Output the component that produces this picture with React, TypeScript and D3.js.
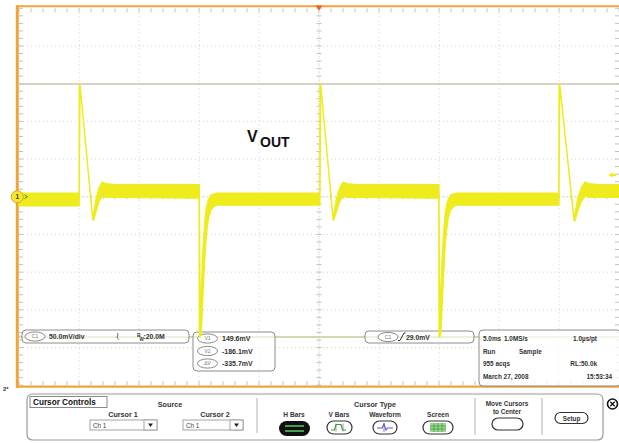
import React from "react";
import * as d3 from "d3";

// Horizontal: 10 divisions of 5 ms; vertical: 10 divisions of 50 mV
const timeDomainMs: [number, number] = [0, 50];
const voltDomainMv: [number, number] = [-250, 250];
const timePerDivMs = 5;
const voltPerDivMv = 50;

// Channel 1 trace envelope: [time ms, upper mV, lower mV]
const traceEnvelope: [number, number, number][] = [
  [0.0, 5, -12],
  [5.0, 5, -12],
  [5.02, 149.6, -12],
  [5.09, 149.6, 146],
  [6.14, -27, -31],
  [6.22, -21, -31],
  [6.42, -3, -20],
  [6.67, 12, -7],
  [6.92, 19.5, 1],
  [7.25, 17.5, -1],
  [8.0, 16, -1],
  [15.0, 16, -2],
  [15.03, 16, -186.1],
  [15.1, -160, -186.1],
  [15.2, -118, -180],
  [15.28, -85, -150],
  [15.38, -55, -115],
  [15.52, -25, -72],
  [15.64, -12, -48],
  [15.78, -4, -30],
  [15.98, 2, -18],
  [16.25, 4, -13],
  [16.55, 5, -11],
  [25.05, 5, -11],
  [25.08, 149.6, -11],
  [25.15, 149.6, 146],
  [26.17, -27, -31],
  [26.25, -21, -31],
  [26.45, -3, -20],
  [26.72, 12, -7],
  [27.0, 19.5, 1],
  [27.33, 17.5, -1],
  [28.1, 16, -1],
  [34.98, 16, -2],
  [35.0, 16, -186.1],
  [35.07, -160, -186.1],
  [35.17, -118, -180],
  [35.25, -85, -150],
  [35.35, -55, -115],
  [35.49, -25, -72],
  [35.61, -12, -48],
  [35.75, -4, -30],
  [35.95, 2, -18],
  [36.22, 4, -13],
  [36.52, 5, -11],
  [44.98, 5, -11],
  [45.0, 149.6, -11],
  [45.07, 149.6, 146],
  [46.25, -28, -32],
  [46.33, -22, -32],
  [46.55, -3, -20],
  [46.85, 12, -7],
  [47.17, 19.5, 1],
  [47.5, 17.5, -1],
  [48.3, 16, -1],
  [50.0, 16, -1],
];

// H-bar cursor levels (mV)
const cursorLevelsMv = [149.6, -186.1];
const cursorLabels = ["V1", "V2", "ΔV"];
const triggerLevelMv = 29.0;
const bandwidthLimit = "20.0M";
const acquisitionRows: [string, string, string][] = [
  ["5.0ms", "1.0MS/s", "1.0µs/pt"],
  ["Run", "Sample", ""],
  ["955 acqs", "", "RL:50.0k"],
  ["March 27, 2008", "", "15:53:34"],
];

const FONT = "'Liberation Sans', Arial, sans-serif";
const TRACE = "#eeec1c";
const ORANGE = "#f0a43c";

const fmtMv = (v: number) => `${v.toFixed(1)}mV`;

export default function App() {
  const x = d3.scaleLinear().domain(timeDomainMs).range([19, 619]);
  const y = d3.scaleLinear().domain(voltDomainMv).range([385.2, 8.3]);

  const area = d3
    .area<[number, number, number]>()
    .x((d) => x(d[0]))
    .y0((d) => y(d[2]))
    .y1((d) => y(d[1]));

  const majorT = d3.range(timeDomainMs[0], timeDomainMs[1] + 0.001, timePerDivMs);
  const majorV = d3.range(voltDomainMv[0], voltDomainMv[1] + 0.001, voltPerDivMv);
  const minorT = d3.range(timeDomainMs[0], timeDomainMs[1] + 0.001, timePerDivMs / 5);
  const minorV = d3.range(voltDomainMv[0], voltDomainMv[1] + 0.001, voltPerDivMv / 5);

  const x0 = x(timeDomainMs[0]);
  const x1 = x(timeDomainMs[1]);
  const yTop = y(voltDomainMv[1]);
  const yBot = y(voltDomainMv[0]);
  const xc = x((timeDomainMs[0] + timeDomainMs[1]) / 2);
  const yc = y(0);

  const readouts = [
    cursorLevelsMv[0],
    cursorLevelsMv[1],
    cursorLevelsMv[1] - cursorLevelsMv[0],
  ];

  const txt = (size: number, weight = "bold", fill = "#333") => ({
    fontFamily: FONT,
    fontSize: size,
    fontWeight: weight as any,
    fill,
  });

  const oval = (cx: number, cy: number, label: string, rx = 10) => (
    <g key={label + cx + cy}>
      <ellipse cx={cx} cy={cy} rx={rx} ry={4.6} fill="#fff" stroke="#8a8a8a" strokeWidth={1} />
      <text x={cx} y={cy + 1.8} textAnchor="middle" {...txt(5, "normal", "#777")}>
        {label}
      </text>
    </g>
  );

  return (
    <svg
      width={619}
      height={443}
      viewBox="0 0 619 443"
      style={{ position: "absolute", left: 0, top: 0, background: "#fff" }}
    >
      <rect x={0} y={0} width={619} height={443} fill="#fff" />

      {/* graticule */}
      <g stroke="#d2d2d2" strokeWidth={1} strokeDasharray="1 3">
        {majorT.slice(1, -1).map((t) => (
          <line key={"gx" + t} x1={x(t)} x2={x(t)} y1={yTop} y2={yBot} />
        ))}
        {majorV.slice(1, -1).map((v) => (
          <line key={"gy" + v} x1={x0} x2={x1} y1={y(v)} y2={y(v)} />
        ))}
      </g>
      <g stroke="#c2c2c2" strokeWidth={1}>
        {minorT.map((t) => (
          <g key={"tt" + t}>
            <line x1={x(t)} x2={x(t)} y1={yTop} y2={yTop + 4} />
            <line x1={x(t)} x2={x(t)} y1={yBot} y2={yBot - 4} />
            <line x1={x(t)} x2={x(t)} y1={yc - 2.5} y2={yc + 2.5} />
          </g>
        ))}
        {minorV.map((v) => (
          <g key={"tv" + v}>
            <line x1={x0} x2={x0 + 4} y1={y(v)} y2={y(v)} />
            <line x1={x1} x2={x1 - 4} y1={y(v)} y2={y(v)} />
            <line x1={xc - 2.5} x2={xc + 2.5} y1={y(v)} y2={y(v)} />
          </g>
        ))}
      </g>
      <g stroke="#d8d8d8" strokeWidth={1} strokeDasharray="1 1.5">
        <line x1={xc} x2={xc} y1={yTop} y2={yBot} />
        <line x1={x0} x2={x1} y1={yc} y2={yc} />
      </g>

      {/* frame */}
      <line x1={16} x2={619} y1={6.3} y2={6.3} stroke={ORANGE} strokeWidth={2} />
      <line x1={16} x2={619} y1={386.6} y2={386.6} stroke={ORANGE} strokeWidth={2.4} />
      <line x1={17.3} x2={17.3} y1={5.3} y2={387.8} stroke={ORANGE} strokeWidth={3} />

      {/* H-bar cursors */}
      {cursorLevelsMv.map((v, i) => (
        <line
          key={"cur" + i}
          x1={x0}
          x2={x1}
          y1={y(v)}
          y2={y(v)}
          stroke={i === 0 ? "#c6c6b4" : "#c8c898"}
          strokeWidth={1.4}
        />
      ))}

      {/* readout boxes */}
      <g>
        <rect x={22} y={330} width={167} height={13} rx={4} fill="#fff" fillOpacity={0.6} stroke="#8c8c8c" strokeWidth={1} />
        {oval(35, 336.5, "C1")}
        <text x={49} y={339} {...txt(6.8)}>50.0mV/div</text>
        <path d="M117.5 333 q1 2 0 3 q-1 1 0 2 l1.5 1.5" fill="none" stroke="#555" strokeWidth={0.9} />
        <text x={137} y={336.5} {...txt(5.2)}>B</text>
        <text x={139.5} y={340.5} {...txt(4.6)}>W</text>
        <text x={143.5} y={339} {...txt(6.8)}>{":" + bandwidthLimit}</text>

        <rect x={193} y={332} width={82} height={39} rx={4} fill="#fff" fillOpacity={0.6} stroke="#8c8c8c" strokeWidth={1} />
        {readouts.map((v, i) => (
          <g key={"ro" + i}>
            {oval(207.5, 338.5 + i * 12.5, cursorLabels[i])}
            <text x={222} y={341 + i * 12.5} {...txt(7)}>
              {fmtMv(v)}
            </text>
          </g>
        ))}

        <rect x={365} y={331} width={109} height={12} rx={4} fill="#fff" fillOpacity={0.6} stroke="#8c8c8c" strokeWidth={1} />
        {oval(388, 337, "C1")}
        <path d="M398 340.5 h2 l4 -7.5 h1.5" fill="none" stroke="#333" strokeWidth={1} />
        <text x={406} y={339.5} {...txt(6.8)}>{fmtMv(triggerLevelMv)}</text>

        <rect x={479} y={330} width={142} height={56} rx={4} fill="#fff" fillOpacity={0.75} stroke="#8c8c8c" strokeWidth={1} />
        {acquisitionRows.map((row, i) => (
          <g key={"acq" + i}>
            <text x={483} y={341 + i * 12.5} {...txt(6.4)}>{row[0]}</text>
            <text x={i === 0 ? 504 : 519} y={341 + i * 12.5} {...txt(6.4)}>{row[1]}</text>
            <text x={i === 3 ? 612 : 597} y={341 + i * 12.5} textAnchor="end" {...txt(6.4)}>
              {row[2]}
            </text>
          </g>
        ))}
      </g>

      {/* channel 1 trace */}
      <path
        d={area(traceEnvelope) || ""}
        fill={TRACE}
        stroke={TRACE}
        strokeWidth={1.2}
        strokeLinejoin="round"
      />

      {/* markers */}
      <path d={`M${xc - 3.5} 5.5 h7 l-3.5 5 z`} fill="#e8622a" />
      <path
        d={`M${x1 - 11} ${y(triggerLevelMv)} l5 -2.5 v5 z M${x1 - 7} ${y(triggerLevelMv) - 1} h4 v2 h-4 z`}
        fill={TRACE}
      />
      <circle cx={17.3} cy={yc} r={6} fill="#f4e82a" stroke="#d9a520" strokeWidth={1} />
      <text x={17.3} y={yc + 2.2} textAnchor="middle" {...txt(6.5, "bold", "#444")}>1</text>
      <path d={`M24.5 ${yc - 1.8} l3 1.8 l-3 1.8`} fill="none" stroke="#666" strokeWidth={0.9} />

      {/* trace label */}
      <text x={247} y={142} {...txt(16, "bold", "#111")}>V</text>
      <text x={260} y={147} {...txt(14, "bold", "#111")}>OUT</text>

      {/* cursor control panel */}
      <g>
        <text x={3} y={391} {...txt(6, "bold", "#333")}>2*</text>
        <path
          d="M27 400 Q27 394 33 394 L597 394 Q603 394 603 400 L603 434 Q603 440 597 440 L33 440 Q27 440 27 434 Z"
          fill="#fff"
          stroke="#9a9a9a"
          strokeWidth={1.2}
        />
        <rect x={30} y={396.5} width={77} height={11} fill="#fff" stroke="#888" strokeWidth={1} />
        <text x={33} y={405.3} {...txt(8.2, "bold", "#111")}>Cursor Controls</text>

        <text x={170} y={407} textAnchor="middle" {...txt(7.2)}>Source</text>
        <text x={123} y={417} textAnchor="middle" {...txt(7.2)}>Cursor 1</text>
        <text x={215} y={417} textAnchor="middle" {...txt(7.2)}>Cursor 2</text>
        {[90, 183].map((bx, i) => (
          <g key={"dd" + i}>
            <rect x={bx} y={420} width={i === 0 ? 67 : 60} height={10} fill="#fff" stroke="#9a9a9a" strokeWidth={0.9} />
            <text x={bx + 3} y={428} {...txt(6.3, "normal", "#444")}>Ch 1</text>
            <rect x={bx + (i === 0 ? 54 : 47)} y={420} width={13} height={10} fill="#fff" stroke="#9a9a9a" strokeWidth={0.9} />
            <path
              d={`M${bx + (i === 0 ? 58 : 51)} 423.5 h5 l-2.5 3.5 z`}
              fill="#222"
            />
          </g>
        ))}
        <line x1={257} x2={257} y1={398} y2={433} stroke="#b0b0b0" strokeWidth={1} />

        <text x={375} y={407} textAnchor="middle" {...txt(7.2)}>Cursor Type</text>
        <text x={294} y={417} textAnchor="middle" {...txt(6.6)}>H Bars</text>
        <rect x={279} y={421} width={31} height={15} rx={7.5} fill="#111" />
        <line x1={285} x2={304} y1={426} y2={426} stroke="#58c060" strokeWidth={1.6} />
        <line x1={285} x2={304} y1={431} y2={431} stroke="#58c060" strokeWidth={1.6} />

        <text x={339} y={417} textAnchor="middle" {...txt(6.6)}>V Bars</text>
        <rect x={327} y={421} width={25} height={13} rx={6.5} fill="#fff" stroke="#333" strokeWidth={1.2} />
        <line x1={336} x2={336} y1={423.5} y2={431.5} stroke="#888" strokeWidth={0.8} />
        <line x1={343} x2={343} y1={423.5} y2={431.5} stroke="#888" strokeWidth={0.8} />
        <path d="M331 430 h3.5 l1.5 -5.5 h5 l1.5 5.5 h3.5" fill="none" stroke="#3a9a40" strokeWidth={1.2} />

        <text x={385} y={417} textAnchor="middle" {...txt(6.6)}>Waveform</text>
        <rect x={373} y={421} width={24} height={13} rx={6.5} fill="#fff" stroke="#333" strokeWidth={1.2} />
        <path d="M377 428 h5 l2 -4 l2 6 l1.5 -2 h5.5" fill="none" stroke="#5c5cc8" strokeWidth={1.1} />
        <line x1={384} x2={384} y1={423} y2={432} stroke="#5c5cc8" strokeWidth={0.8} />

        <text x={438} y={417} textAnchor="middle" {...txt(6.6)}>Screen</text>
        <rect x={423} y={421} width={30} height={13} rx={6.5} fill="#fff" stroke="#333" strokeWidth={1.2} />
        <rect x={430} y={423} width={16} height={9} fill="#9ad88e" />
        {[434, 438, 442].map((gx) => (
          <line key={"sg" + gx} x1={gx} x2={gx} y1={423} y2={432} stroke="#3c9a3c" strokeWidth={0.7} />
        ))}
        {[426, 429].map((gy) => (
          <line key={"sh" + gy} x1={430} x2={446} y1={gy} y2={gy} stroke="#3c9a3c" strokeWidth={0.7} />
        ))}

        <line x1={475} x2={475} y1={398} y2={435} stroke="#b0b0b0" strokeWidth={1} />
        <text x={507} y={406} textAnchor="middle" {...txt(6.4)}>Move Cursors</text>
        <text x={507} y={414} textAnchor="middle" {...txt(6.4)}>to Center</text>
        <rect x={492} y={418} width={31} height={12} rx={6} fill="#fff" stroke="#333" strokeWidth={1.2} />
        <line x1={542} x2={542} y1={398} y2={435} stroke="#b0b0b0" strokeWidth={1} />
        <rect x={555} y={412.5} width={33} height={11} rx={5.5} fill="#fff" stroke="#333" strokeWidth={1.2} />
        <text x={571.5} y={420.6} textAnchor="middle" {...txt(6.3)}>Setup</text>

        <circle cx={612.5} cy={404} r={5} fill="#fff" stroke="#111" strokeWidth={1.6} />
        <path d="M610.3 401.8 l4.4 4.4 M614.7 401.8 l-4.4 4.4" stroke="#111" strokeWidth={1.3} />
      </g>
    </svg>
  );
}
